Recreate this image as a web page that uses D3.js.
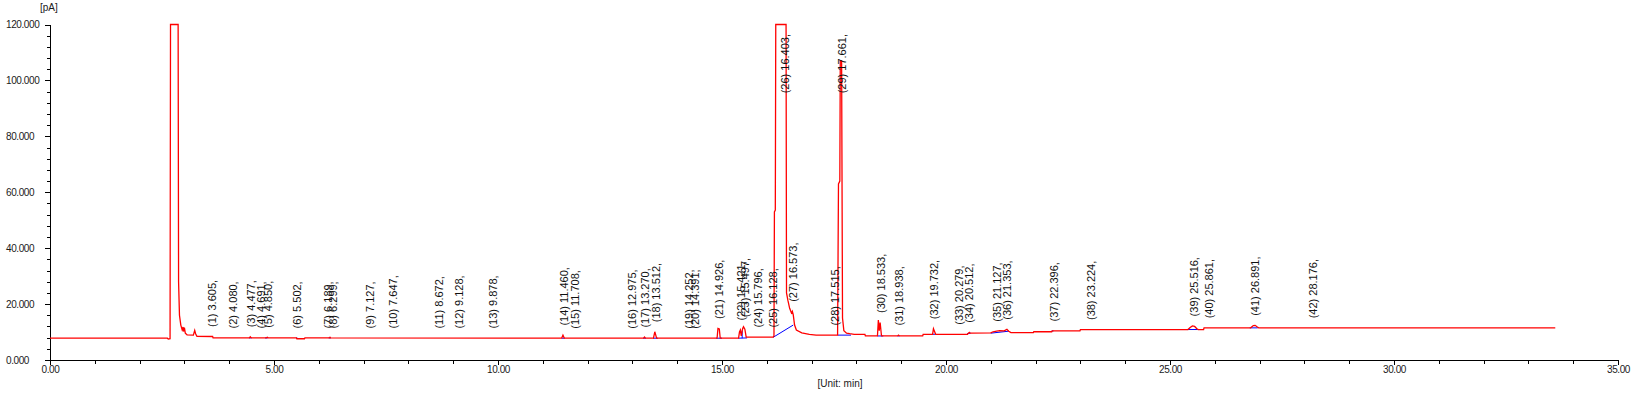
<!DOCTYPE html>
<html>
<head>
<meta charset="utf-8">
<script src="https://cdn.jsdelivr.net/npm/d3@7/dist/d3.min.js"></script>
<style>
  html, body { margin: 0; padding: 0; background: #fff; }
  svg { display: block; font-family: Arial, "Liberation Sans", sans-serif; }
  .axis text { font-size: 10px; fill: #1a1a1a; letter-spacing: -0.4px; }
  .axis path, .axis line { stroke: #000; shape-rendering: crispEdges; }
  .peak-label { font-size: 11px; fill: #111; }
</style>
</head>
<body>
<svg id="chart" width="1636" height="395"></svg>
<script>
// signal trace: [time (min), signal (pA)]
const trace = [
    [0, 7.8], [2.62, 7.8], [2.64, 7.5], [2.68, 7.6],
    [2.69, 120], [2.86, 120], [2.87, 28], [2.89, 16], [2.92, 12.5], [2.95, 10.8],
    [2.97, 11.8], [2.98, 10.2], [3.00, 11.6], [3.02, 9.6], [3.06, 9.0], [3.20, 8.9],
    [3.23, 10.6], [3.25, 9.4], [3.28, 8.5], [3.63, 8.4], [3.64, 7.9],
    [4.45, 7.9], [4.47, 8.3], [4.49, 7.9], [4.83, 7.9], [4.85, 8.1], [4.87, 7.9],
    [5.50, 7.9], [5.51, 7.6], [5.68, 7.6], [5.69, 7.9], [6.24, 7.9], [6.25, 8.1], [6.26, 7.9],
    [11.42, 7.8], [11.45, 8.9], [11.48, 7.8],
    [13.25, 7.8], [13.27, 8.2], [13.29, 7.8],
    [13.47, 7.8], [13.50, 10.1], [13.52, 9.0], [13.54, 7.8],
    [14.89, 7.8], [14.91, 11.3], [14.94, 11.1], [14.96, 7.8],
    [15.37, 7.8], [15.39, 10.0], [15.41, 10.7], [15.43, 8.6], [15.46, 11.2], [15.48, 11.9],
    [15.51, 11.0], [15.54, 8.2], [16.14, 8.2], [16.16, 8.6],
    [16.17, 53], [16.19, 53.6], [16.20, 120], [16.43, 120], [16.44, 24],
    [16.47, 21.4], [16.51, 18.5], [16.55, 16.8], [16.57, 17.4], [16.59, 16.2], [16.62, 12.5],
    [16.66, 10.7], [16.78, 9.7], [16.95, 9.2], [17.10, 8.9], [17.58, 8.9],
    [17.60, 63], [17.63, 64], [17.64, 107], [17.67, 107], [17.69, 15], [17.72, 10.5],
    [17.78, 9.6], [17.85, 9.4], [17.95, 9.2], [18.19, 9.2], [18.20, 8.6],
    [18.47, 8.6], [18.49, 14.3], [18.51, 10.5], [18.53, 13.4], [18.56, 8.6],
    [18.92, 8.6], [18.94, 8.9], [18.96, 8.6], [19.48, 8.6], [19.49, 9.2],
    [19.70, 9.2], [19.72, 11.2], [19.74, 10.4], [19.77, 9.2],
    [20.48, 9.2], [20.50, 9.6], [20.52, 9.9], [20.54, 9.6],
    [21.00, 9.7], [21.05, 10.1], [21.13, 10.3], [21.20, 10.5], [21.30, 10.4], [21.36, 11.0],
    [21.40, 10.3], [21.45, 9.8], [21.95, 9.8], [21.96, 10.1], [22.36, 10.1], [22.37, 10.4],
    [22.99, 10.4], [23.00, 10.9],
    [25.40, 10.9], [25.45, 11.6], [25.50, 12.2], [25.55, 12.0], [25.60, 11.2], [25.63, 10.9],
    [25.75, 10.9], [25.76, 11.5],
    [26.80, 11.5], [26.86, 12.3], [26.90, 12.4], [26.95, 11.8], [26.98, 11.5],
    [33.60, 11.5]
]

// integration baselines: [t1, v1, t2, v2]
const baselines = [
    [4.44, 7.9, 4.50, 7.9], [4.80, 7.9, 4.86, 7.9], [5.49, 7.9, 5.54, 7.7],
    [6.22, 7.9, 6.27, 7.9], [11.42, 7.8, 11.49, 7.8], [13.24, 7.8, 13.30, 7.8],
    [13.46, 7.8, 13.57, 7.8], [14.87, 7.8, 15.00, 7.8], [15.36, 7.8, 15.56, 7.9],
    [15.45, 7.8, 15.45, 10.5], [16.14, 8.1, 16.59, 12.5], [17.58, 8.9, 17.88, 8.9],
    [18.47, 8.6, 18.60, 8.6], [18.92, 8.6, 18.96, 8.6], [19.70, 9.2, 19.77, 9.2],
    [20.47, 9.4, 20.55, 9.6], [21.00, 9.6, 21.40, 10.3], [22.36, 10.4, 22.40, 10.4],
    [25.38, 10.9, 25.62, 10.9], [26.78, 11.5, 26.96, 11.5]
]

// peak numbers and retention times
const peakNumbers = d3.range(1, 43)
const retentionTimes = [
    3.605, 4.080, 4.477, 4.691, 4.850, 5.502, 6.189, 6.299, 7.127, 7.647,
    8.672, 9.128, 9.878, 11.460, 11.708, 12.975, 13.270, 13.512, 14.252, 14.391,
    14.926, 15.421, 15.497, 15.796, 16.128, 16.403, 16.573, 17.515, 17.661, 18.533,
    18.938, 19.732, 20.279, 20.512, 21.127, 21.353, 22.396, 23.224, 25.516, 25.861,
    26.891, 28.176
]

const xTicks = d3.range(0, 35.01, 5)
const yTicks = d3.range(0, 120.01, 20)

const svg = d3.select("#chart")
const plotLeft = 50, plotRight = 1618, plotTop = 24.5, plotBottom = 360

const x = d3.scaleLinear().domain([0, 35]).range([plotLeft, plotRight])
const y = d3.scaleLinear().domain([0, 120]).range([plotBottom, plotTop])

// minor ticks first so the majors sit on top
svg.append("g")
    .attr("class", "axis")
    .attr("transform", `translate(0,${plotBottom})`)
    .call(d3.axisBottom(x).tickValues(d3.range(0, 35.01, 1)).tickSize(4).tickSizeOuter(0).tickFormat(""))
svg.append("g")
    .attr("class", "axis")
    .attr("transform", `translate(0,${plotBottom})`)
    .call(d3.axisBottom(x).tickValues(xTicks).tickSize(5).tickSizeOuter(0).tickPadding(1).tickFormat(d3.format(".2f")))

svg.append("g")
    .attr("class", "axis")
    .attr("transform", `translate(${plotLeft},0)`)
    .call(d3.axisLeft(y).tickValues(d3.range(0, 120.01, 4)).tickSize(3).tickSizeOuter(0).tickFormat(""))
const yAxis = svg.append("g")
    .attr("class", "axis")
    .attr("transform", `translate(${plotLeft},0)`)
    .call(d3.axisLeft(y).tickValues(yTicks).tickSize(5).tickSizeOuter(0).tickFormat(d3.format(".3f")))
// the instrument software left-aligns the value labels
yAxis.selectAll("text").attr("text-anchor", "start").attr("x", 6 - plotLeft)

svg.append("text")
    .attr("x", 40).attr("y", 11)
    .style("font-size", "10px").style("fill", "#1a1a1a")
    .text("[pA]")
svg.append("text")
    .attr("x", 840).attr("y", 386.5)
    .attr("text-anchor", "middle")
    .style("font-size", "10px").style("fill", "#1a1a1a")
    .text("[Unit: min]")

// baselines (blue) under the trace
svg.append("g")
    .selectAll("line")
    .data(baselines)
    .join("line")
    .attr("x1", d => x(d[0])).attr("y1", d => y(d[1]))
    .attr("x2", d => x(d[2])).attr("y2", d => y(d[3]))
    .attr("stroke", "#0000ff")
    .attr("stroke-width", 1)

const line = d3.line().x(d => x(d[0])).y(d => y(d[1]))
svg.append("path")
    .datum(trace)
    .attr("d", line)
    .attr("fill", "none")
    .attr("stroke", "#ff0000")
    .attr("stroke-width", 1.3)
    .attr("stroke-linejoin", "miter")

// label height follows the apex of the trace at each retention time
const apexAt = (rt) => {
    const near = trace.filter(p => Math.abs(p[0] - rt) <= 0.03).map(p => p[1])
    if (near.length) return d3.max(near)
    const i = d3.bisector(p => p[0]).left(trace, rt)
    const a = trace[i - 1], b = trace[i]
    return a[1] + (b[1] - a[1]) * (rt - a[0]) / (b[0] - a[0])
}

const labels = svg.append("g")
    .selectAll("text")
    .data(retentionTimes)
    .join("text")
    .attr("class", "peak-label")
    .attr("dominant-baseline", "central")
    .text((d, i) => `(${peakNumbers[i]}) ${d.toFixed(3)},`)

labels.each(function (d) {
    const len = this.getComputedTextLength()
    let yb = y(apexAt(d)) - 9.5
    if (yb - len < 34) yb = 34 + len
    d3.select(this).attr("transform", `translate(${x(d) + 0.5},${yb}) rotate(-90)`)
})
</script>
</body>
</html>
